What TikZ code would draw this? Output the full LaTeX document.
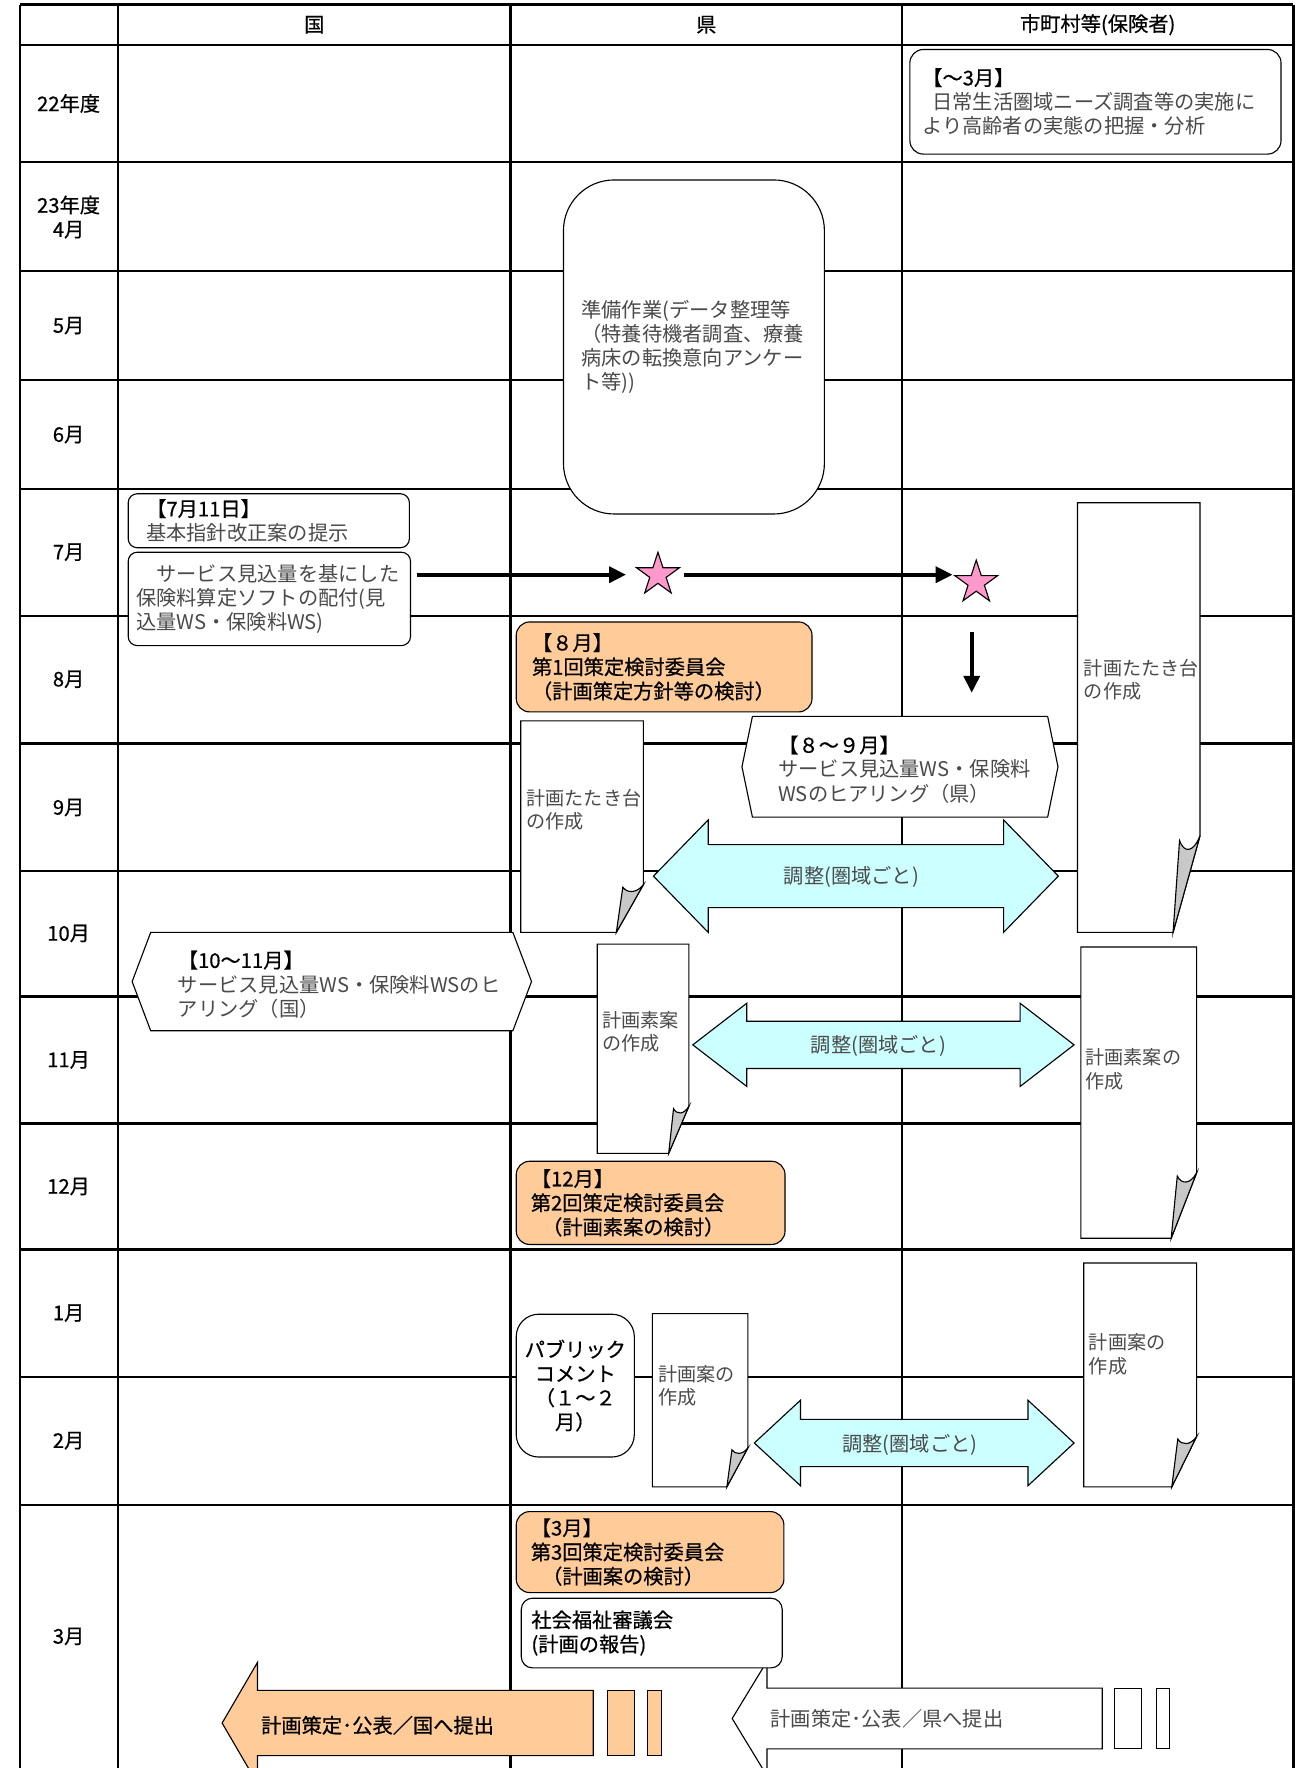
\documentclass[tikz,border=0pt]{standalone}
\usepackage{fontspec}
\setmainfont{Noto Sans CJK JP}
\newfontfamily\gothfont{Noto Sans CJK JP}[FakeBold=0.6]
\usetikzlibrary{positioning, shapes.geometric, arrows.meta}

\definecolor{peach}{HTML}{FFCC99}
\definecolor{adjcyan}{HTML}{CCFFFF}
\definecolor{starpink}{HTML}{FF99CC}
\definecolor{foldgray}{HTML}{C8C8C8}
\definecolor{mintext}{HTML}{4A4A4A}

\newcommand{\mtx}[1]{{\normalfont\fontsize{18}{21.5}\selectfont\textcolor{mintext}{#1}}}

% page with folded corner: name, x0, y0, x1, y1
\newcommand{\docpage}[5]{%
  \pgfmathsetmacro{\fw}{0.22*(#4-#2)}%
  \pgfmathsetmacro{\fh}{0.225*(#5-#3)}%
  \draw[docline, fill=white] (#2,#3) -- (#4,#3) -- (#4,#5-\fh) -- (#4-\fw,#5) -- (#2,#5) -- cycle;
  \draw[docline, fill=foldgray] (#4-\fw,#5) -- (#4,#5-\fh) .. controls (#4-0.25*\fw,#5-0.82*\fh) and (#4-0.6*\fw,#5-0.82*\fh) .. (#4-0.76*\fw,#5-0.95*\fh) -- cycle;
  \coordinate (#1) at (#2,#3);
}

% hexagon panel: name, left tip, left edge, right edge, right tip, top, bottom
\newcommand{\hexpanel}[7]{%
  \draw[docline, fill=white] (#2,{(#6+#7)/2}) -- (#3,#6) -- (#4,#6) -- (#5,{(#6+#7)/2}) -- (#4,#7) -- (#3,#7) -- cycle;
  \coordinate (#1) at (#3,#6);
}

% double block arrow: name, x0, x1, y, head length, head half, shaft half
\newcommand{\dblarrow}[7]{%
  \draw[docline, fill=adjcyan] (#2,#4) -- (#2+#5,#4-#6) -- (#2+#5,#4-#7) -- (#3-#5,#4-#7) -- (#3-#5,#4-#6) -- (#3,#4)
    -- (#3-#5,#4+#6) -- (#3-#5,#4+#7) -- (#2+#5,#4+#7) -- (#2+#5,#4+#6) -- cycle;
  \coordinate (#1) at ({(#2+#3)/2},#4);
}

\tikzset{
  gridline/.style={line width=2pt},
  docline/.style={line width=1pt},
  gothic/.style={font=\gothfont\fontsize{18}{21.5}\selectfont, text=black},
  mincho/.style={font=\fontsize{18}{21.5}\selectfont, text=mintext},
  doctext/.style={font=\fontsize{17}{21}\selectfont, text=mintext},
  txt/.style={inner sep=0pt, align=left, anchor=west},
  lbl/.style={gothic, inner sep=0pt, align=center},
  rbox/.style={draw, line width=1pt, fill=white, inner ysep=0pt, align=left},
  flow/.style={line width=3.5pt, -{Triangle[length=15pt,width=14pt]}},
  starmark/.style={star, star points=5, star point ratio=2.618, draw, line width=1pt, fill=starpink, minimum size=40pt, inner sep=0pt},
}

\begin{document}
\begin{tikzpicture}[x=1pt, y=-1pt]
\useasboundingbox (0,0) rectangle (1166,1572);
\clip (0,0) rectangle (1166,1572);

% table
\draw[gridline] (17.5,4) -- (1150,4) (17.5,40) -- (1150,40) (17.5,144) -- (1150,144) (17.5,241) -- (1150,241)
  (17.5,338) -- (1150,338) (17.5,435) -- (1150,435) (17.5,547.5) -- (1150,547.5) (17.5,661) -- (1150,661)
  (17.5,774.5) -- (1150,774.5) (17.5,886) -- (1150,886) (17.5,999) -- (1150,999) (17.5,1111) -- (1150,1111)
  (17.5,1224) -- (1150,1224) (17.5,1338) -- (1150,1338);
\draw[gridline] (17.5,4) -- (17.5,1580) (105,4) -- (105,1580) (454,4) -- (454,1580) (802,4) -- (802,1580) (1150,4) -- (1150,1580);

\node[lbl] (hkuni) at (279.5,22) {国};
\node[lbl] (hken) at (628,22) {県};
\node[lbl] (hcity) at (976,22) {市町村等(保険者)};

\node[lbl] (r22) at (61,92) {22年度};
\node[lbl] (r23) at (61,193) {23年度\\4月};
\node[lbl] (r5) at (61,289.5) {5月};
\node[lbl] (r6) at (61,386.5) {6月};
\node[lbl] (r7) at (61,491) {7月};
\node[lbl] (r8) at (61,604) {8月};
\node[lbl] (r9) at (61,718) {9月};
\node[lbl] (r10) at (61,830) {10月};
\node[lbl] (r11) at (61,942.5) {11月};
\node[lbl] (r12) at (61,1055) {12月};
\node[lbl] (r1) at (61,1167.5) {1月};
\node[lbl] (r2) at (61,1281) {2月};
\node[lbl] (r3) at (61,1455) {3月};

% 22年度 - 7月
\node[rbox, gothic, rounded corners=12pt, minimum width=330pt, minimum height=93pt, text width=308pt, inner xsep=11pt] (survey) at (974,90.5)
  {【〜3月】\\\mtx{\hspace*{9pt}日常生活圏域ニーズ調査等の実施に}\\\mtx{より高齢者の実態の把握・分析}};
\node[rbox, mincho, rounded corners=45pt, minimum width=232pt, minimum height=297pt, text width=200pt, inner xsep=16pt] (prep) at (617,308.5)
  {準備作業(データ整理等\\（特養待機者調査、療養\\病床の転換意向アンケー\\ト等))};
\node[rbox, gothic, rounded corners=8pt, minimum width=250pt, minimum height=48pt, text width=218pt, inner xsep=16pt] (guide) at (239,463)
  {【7月11日】\\\mtx{基本指針改正案の提示}};
\node[rbox, mincho, rounded corners=8pt, minimum width=251pt, minimum height=83pt, text width=237pt, inner xsep=7pt] (soft) at (239.5,532.5)
  {　サービス見込量を基にした\\保険料算定ソフトの配付(見\\込量WS・保険料WS)};

\node[starmark] (star1) at (585,511) {};
\node[starmark] (star2) at (868,518) {};
\coordinate (dn) at (864,616);
\draw[flow, shorten <=5pt, shorten >=17pt] (soft.east |- star1) -- (star1);
\draw[flow, shorten <=12pt, shorten >=21pt] (star1) -- (star1 -| star2);
\draw[flow, shorten <=36pt] (star2.south -| dn) -- (dn);

% 8月 - 11月
\node[rbox, gothic, fill=peach, rounded corners=12pt, minimum width=263pt, minimum height=80pt, text width=235pt, inner xsep=14pt] (com1) at (590.5,593)
  {【８月】\\第1回策定検討委員会\\（計画策定方針等の検討）};

\docpage{draft1}{463}{641}{572}{829}
\node[doctext, txt] (draft1t) at (468,720) {計画たたき台\\の作成};

\hexpanel{hear1}{659.7}{669}{931.5}{940.7}{637}{726.5}
\node[mincho, txt] (hear1t) at (691.8,684) {{\gothfont\color{black}【８〜９月】}\\サービス見込量WS・保険料\\WSのヒアリング（県）};

\dblarrow{adj1}{581}{941}{779}{48.7}{50}{28}
\node[mincho, inner sep=0pt] (adj1t) at (757,780) {調整(圏域ごと)};

\docpage{draft2}{958}{447}{1067}{829}
\node[doctext, txt] (draft2t) at (963.6,604.5) {計画たたき台\\の作成};

\hexpanel{hear2}{117.5}{134}{456}{472.6}{829}{916.5}
\node[mincho, txt] (hear2t) at (157.9,875.3) {{\gothfont\color{black}【10〜11月】}\\サービス見込量WS・保険料WSのヒ\\アリング（国）};

\docpage{plan1}{531}{839.5}{612.5}{1025.5}
\node[doctext, txt] (plan1t) at (535.6,917.4) {計画素案\\の作成};

\dblarrow{adj2}{616}{955}{929}{48}{37}{21}
\node[mincho, inner sep=0pt] (adj2t) at (781,930) {調整(圏域ごと)};

\docpage{plan2}{961}{842}{1064}{1101}
\node[doctext, txt] (plan2t) at (965,950.5) {計画素案の\\作成};

% 12月 - 2月
\node[rbox, gothic, fill=peach, rounded corners=12pt, minimum width=239pt, minimum height=74pt, text width=213pt, inner xsep=13pt] (com2) at (578.5,1069.5)
  {【12月】\\第2回策定検討委員会\\\hspace*{10pt}（計画素案の検討）};

\node[rbox, gothic, rounded corners=20pt, minimum width=105pt, minimum height=127pt, text width=95pt, inner xsep=5pt, align=center] (pub) at (511.5,1232)
  {パブリック\\コメント\\（１〜２\\月）};

\docpage{case1}{580}{1168}{665}{1322}
\node[doctext, txt] (case1t) at (585,1232) {計画案の\\作成};

\dblarrow{adj3}{670.7}{955}{1283}{41}{38}{21}
\node[mincho, inner sep=0pt] (adj3t) at (809,1285) {調整(圏域ごと)};

\docpage{case2}{963.6}{1123}{1064}{1322}
\node[doctext, txt] (case2t) at (968,1204.3) {計画案の\\作成};

% 3月
\node[rbox, gothic, fill=peach, rounded corners=12pt, minimum width=238pt, minimum height=72pt, text width=212pt, inner xsep=13pt] (com3) at (578,1380)
  {【3月】\\第3回策定検討委員会\\\hspace*{10pt}（計画案の検討）};

\draw[docline, fill=peach] (527.5,1503) -- (229,1503) -- (229,1478) -- (197.5,1532) -- (229,1586) -- (229,1561) -- (527.5,1561) -- cycle;
\draw[docline, fill=peach] (540,1503) rectangle (564,1561);
\draw[docline, fill=peach] (576,1503) rectangle (588,1561);
\node[gothic, txt] (tokuni) at (232,1534) {計画策定･公表／国へ提出};

\draw[docline, fill=white] (980,1501) -- (682,1501) -- (682,1477) -- (651,1528) -- (682,1579) -- (682,1555) -- (980,1555) -- cycle;
\draw[docline, fill=white] (991,1501) rectangle (1015,1555);
\draw[docline, fill=white] (1028,1501) rectangle (1040,1555);
\node[mincho, txt] (token) at (685,1528) {計画策定･公表／県へ提出};

\node[rbox, gothic, rounded corners=10pt, minimum width=232pt, minimum height=62pt, text width=214pt, inner xsep=9pt] (council) at (579.5,1452)
  {社会福祉審議会\\(計画の報告)};
\end{tikzpicture}
\end{document}
